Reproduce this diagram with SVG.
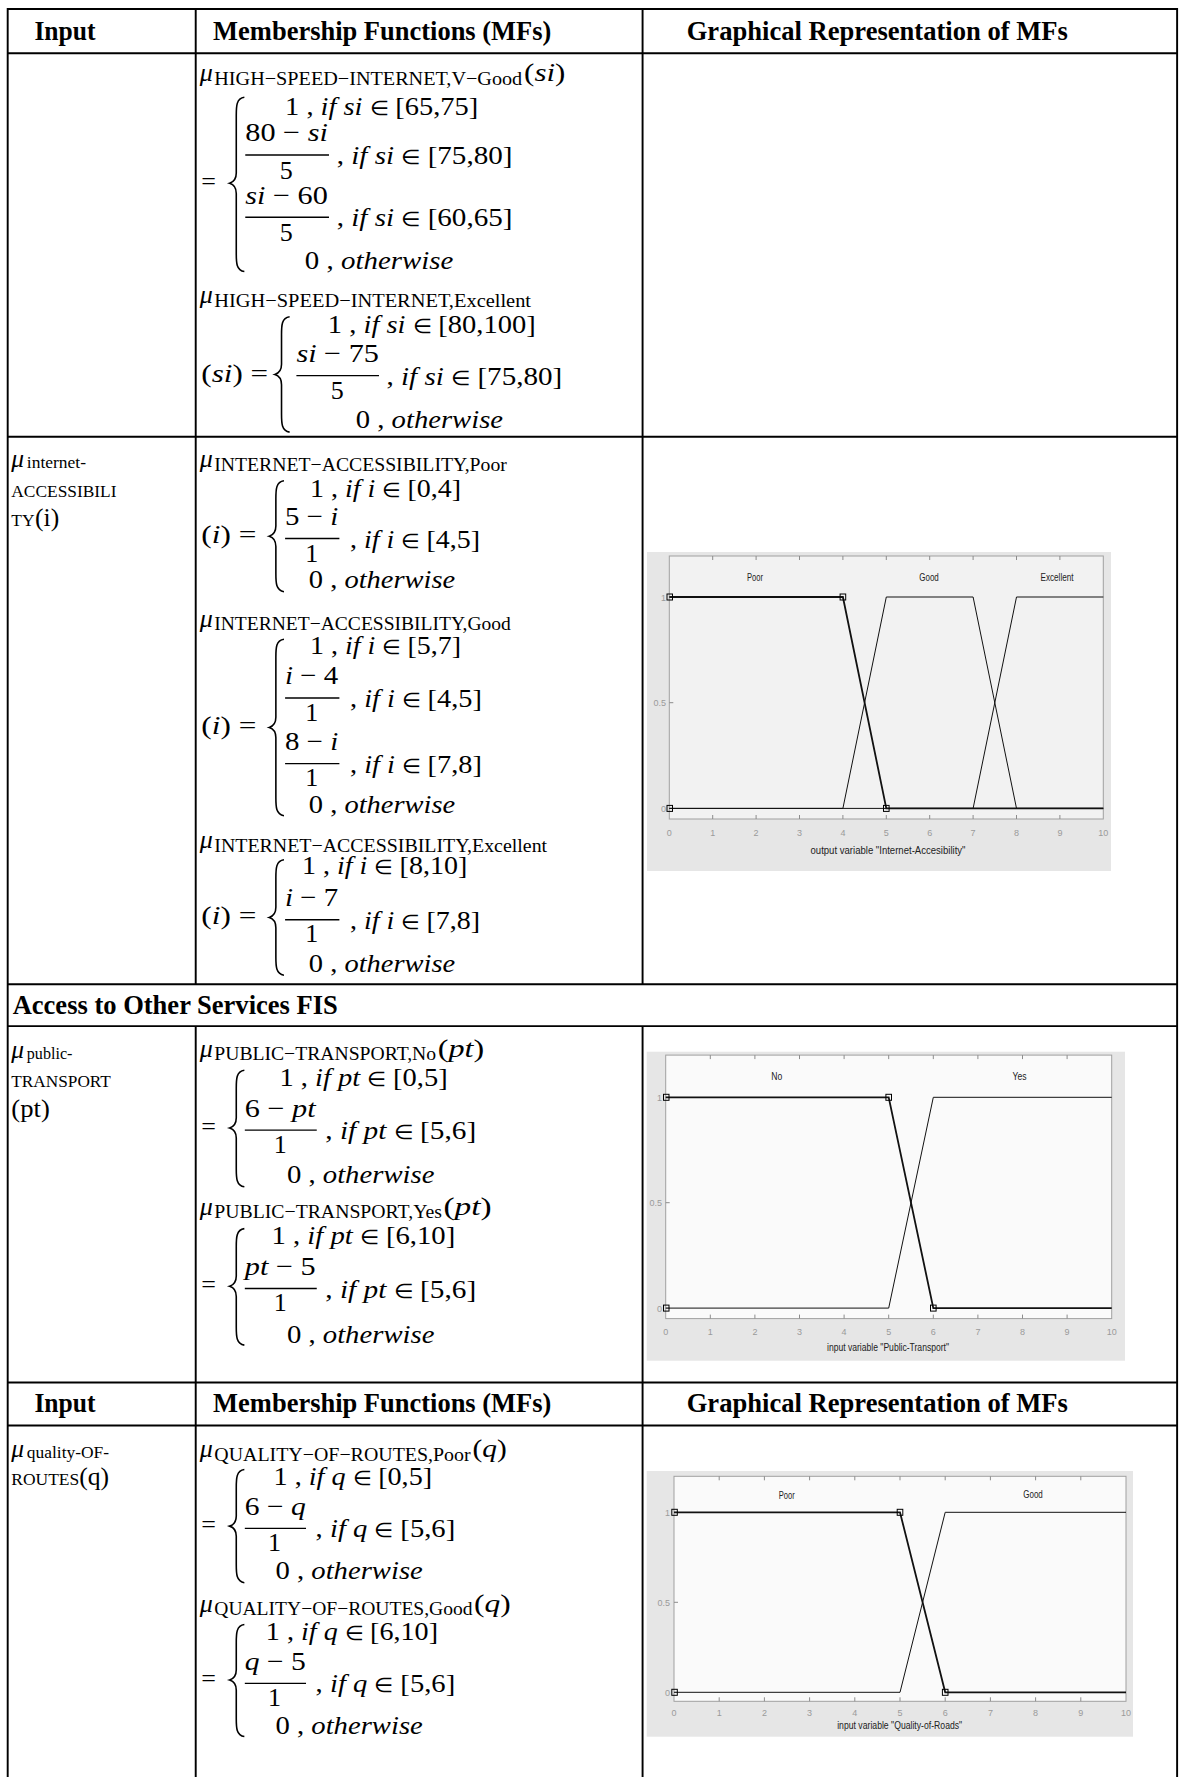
<svg xmlns="http://www.w3.org/2000/svg" width="1180" height="1777" viewBox="0 0 1180 1777">
<style>
.m{font-family:"Liberation Serif","Times New Roman",serif;font-size:23px;fill:#000}
.s{font-size:17.5px}
.it{font-style:italic}
.e{font-size:18px}
.h{font-family:"Liberation Serif","Times New Roman",serif;font-weight:bold;font-size:23.3px;fill:#000}
.l{font-family:"Liberation Serif","Times New Roman",serif;font-size:15.4px;fill:#000}
.lb{font-family:"Liberation Serif","Times New Roman",serif;font-size:22.5px;fill:#000}
.ln{stroke:#000;stroke-width:1.7;fill:none}
.br{fill:none;stroke:#000;stroke-width:1.4}
.bar{stroke:#000;stroke-width:1.2}
.bg{fill:#e6e6e6}
.pa{stroke:#a0a0a0;stroke-width:1}
.tkl{stroke:#8c8c8c;stroke-width:1}
.tk{font-family:"Liberation Sans",Arial,sans-serif;font-size:9px;fill:#9a9a9a}
.cl{font-family:"Liberation Sans",Arial,sans-serif;font-size:10px;fill:#222}
.mf{fill:none;stroke:#111;stroke-width:1}
.mfs{fill:none;stroke:#111;stroke-width:1.8}
.sq{fill:none;stroke:#000;stroke-width:1}
</style>
<rect x="0" y="0" width="1180" height="1777" fill="#fff"/>
<g transform="scale(1.1313)">
<g id="table-lines">
<path class="ln" d="M6.8,8H1041M6.8,47H1041M6.8,386H1041M6.8,870H1041M6.8,907H1041M6.8,1222H1041M6.8,1260H1041"/>
<path class="ln" d="M6.8,7V1571M1040.5,7V1571M173,8V870M173,907V1571M568,8V870M568,907V1571"/>
</g>
<g id="header1">
<text class="h" x="30.4" y="35" textLength="54" lengthAdjust="spacingAndGlyphs">Input</text>
<text class="h" x="188.4" y="35" textLength="299" lengthAdjust="spacingAndGlyphs">Membership Functions (MFs)</text>
<text class="h" x="607" y="35" textLength="337" lengthAdjust="spacingAndGlyphs">Graphical Representation of MFs</text>
</g>
<g id="mf-hsi-vgood">
<text class="m it" x="176.5" y="72">μ</text>
<text class="m s" x="189.4" y="75" textLength="272.2" lengthAdjust="spacingAndGlyphs">HIGH−SPEED−INTERNET,V−Good</text>
<text class="m" x="463.3" y="72" textLength="36.5" lengthAdjust="spacingAndGlyphs">(<tspan class="it">si</tspan>)</text>
<text class="m" x="252" y="102" textLength="170.7" lengthAdjust="spacingAndGlyphs">1 , <tspan class="it">if si</tspan> <tspan class="e">∈</tspan> [65,75]</text>
<text class="m" x="178" y="168">=</text>
<path class="br" d="M216,86 C208.85,87 208.85,94 208.85,102 L208.85,153 C208.85,158 206.25,161 203,162 C206.25,163 208.85,166 208.85,171 L208.85,224 C208.85,232 208.85,239 216,240"/>
<text class="m" x="216.8" y="125" textLength="73" lengthAdjust="spacingAndGlyphs">80 − <tspan class="it">si</tspan></text>
<line class="bar" x1="216.8" y1="137" x2="290.8" y2="137"/>
<text class="m" x="253" y="158" text-anchor="middle">5</text>
<text class="m" x="297.6" y="145" textLength="155.4" lengthAdjust="spacingAndGlyphs">, <tspan class="it">if si</tspan> <tspan class="e">∈</tspan> [75,80]</text>
<text class="m" x="216.8" y="180" textLength="73" lengthAdjust="spacingAndGlyphs"><tspan class="it">si</tspan> − 60</text>
<line class="bar" x1="216.8" y1="192" x2="290.8" y2="192"/>
<text class="m" x="253" y="213" text-anchor="middle">5</text>
<text class="m" x="297.6" y="200" textLength="155.4" lengthAdjust="spacingAndGlyphs">, <tspan class="it">if si</tspan> <tspan class="e">∈</tspan> [60,65]</text>
<text class="m" x="269.5" y="238" textLength="131.2" lengthAdjust="spacingAndGlyphs">0 , <tspan class="it">otherwise</tspan></text>
</g>
<g id="mf-hsi-excellent">
<text class="m it" x="176.5" y="268">μ</text>
<text class="m s" x="189.4" y="271" textLength="280" lengthAdjust="spacingAndGlyphs">HIGH−SPEED−INTERNET,Excellent</text>
<text class="m" x="289.8" y="294" textLength="183.7" lengthAdjust="spacingAndGlyphs">1 , <tspan class="it">if si</tspan> <tspan class="e">∈</tspan> [80,100]</text>
<text class="m" x="178" y="338" textLength="59" lengthAdjust="spacingAndGlyphs">(<tspan class="it">si</tspan>) =</text>
<path class="br" d="M256,280 C248.85,281 248.85,288 248.85,296 L248.85,322 C248.85,327 246.25,330 243,331 C246.25,332 248.85,335 248.85,340 L248.85,366 C248.85,374 248.85,381 256,382"/>
<text class="m" x="262" y="320" textLength="73" lengthAdjust="spacingAndGlyphs"><tspan class="it">si</tspan> − 75</text>
<line class="bar" x1="262" y1="332" x2="335" y2="332"/>
<text class="m" x="298" y="353" text-anchor="middle">5</text>
<text class="m" x="341.6" y="340" textLength="155.4" lengthAdjust="spacingAndGlyphs">, <tspan class="it">if si</tspan> <tspan class="e">∈</tspan> [75,80]</text>
<text class="m" x="314.5" y="378" textLength="130.2" lengthAdjust="spacingAndGlyphs">0 , <tspan class="it">otherwise</tspan></text>
</g>
<g id="input-internet-accessibility">
<text class="lb it" x="10" y="413">μ</text>
<text class="l" x="23.7" y="414" textLength="52.3" lengthAdjust="spacingAndGlyphs">internet-</text>
<text class="l" x="10" y="439" textLength="93" lengthAdjust="spacingAndGlyphs">ACCESSIBILI</text>
<text class="l" x="10" y="465" textLength="20.5" lengthAdjust="spacingAndGlyphs">TY</text>
<text class="lb" x="31" y="465" textLength="21.4" lengthAdjust="spacingAndGlyphs">(i)</text>
</g>
<g id="mf-ia-poor">
<text class="m it" x="176.5" y="413">μ</text>
<text class="m s" x="189.4" y="416" textLength="258.6" lengthAdjust="spacingAndGlyphs">INTERNET−ACCESSIBILITY,Poor</text>
<text class="m" x="274" y="439" textLength="133.5" lengthAdjust="spacingAndGlyphs">1 , <tspan class="it">if i</tspan> <tspan class="e">∈</tspan> [0,4]</text>
<text class="m" x="178" y="480" textLength="48.6" lengthAdjust="spacingAndGlyphs">(<tspan class="it">i</tspan>) =</text>
<path class="br" d="M251,425 C243.85,426 243.85,433 243.85,441 L243.85,465 C243.85,470 241.25,473 238,474 C241.25,475 243.85,478 243.85,483 L243.85,507 C243.85,515 243.85,522 251,523"/>
<text class="m" x="252" y="464" textLength="47" lengthAdjust="spacingAndGlyphs">5 − <tspan class="it">i</tspan></text>
<line class="bar" x1="252" y1="476" x2="300" y2="476"/>
<text class="m" x="275.6" y="497" text-anchor="middle">1</text>
<text class="m" x="309.4" y="484" textLength="115" lengthAdjust="spacingAndGlyphs">, <tspan class="it">if i</tspan> <tspan class="e">∈</tspan> [4,5]</text>
<text class="m" x="273" y="520" textLength="129.4" lengthAdjust="spacingAndGlyphs">0 , <tspan class="it">otherwise</tspan></text>
</g>
<g id="mf-ia-good">
<text class="m it" x="176.5" y="554">μ</text>
<text class="m s" x="189.4" y="557" textLength="262.1" lengthAdjust="spacingAndGlyphs">INTERNET−ACCESSIBILITY,Good</text>
<text class="m" x="274" y="578" textLength="133.5" lengthAdjust="spacingAndGlyphs">1 , <tspan class="it">if i</tspan> <tspan class="e">∈</tspan> [5,7]</text>
<text class="m" x="178" y="649" textLength="48.6" lengthAdjust="spacingAndGlyphs">(<tspan class="it">i</tspan>) =</text>
<path class="br" d="M251,565 C243.85,566 243.85,573 243.85,581 L243.85,634 C243.85,639 241.25,642 238,643 C241.25,644 243.85,647 243.85,652 L243.85,705 C243.85,713 243.85,720 251,721"/>
<text class="m" x="252" y="605" textLength="47" lengthAdjust="spacingAndGlyphs"><tspan class="it">i</tspan> − 4</text>
<line class="bar" x1="252" y1="617" x2="300" y2="617"/>
<text class="m" x="275.6" y="637" text-anchor="middle">1</text>
<text class="m" x="309.4" y="625" textLength="116.6" lengthAdjust="spacingAndGlyphs">, <tspan class="it">if i</tspan> <tspan class="e">∈</tspan> [4,5]</text>
<text class="m" x="252" y="663" textLength="47" lengthAdjust="spacingAndGlyphs">8 − <tspan class="it">i</tspan></text>
<line class="bar" x1="252" y1="675" x2="300" y2="675"/>
<text class="m" x="275.6" y="695" text-anchor="middle">1</text>
<text class="m" x="309.4" y="683" textLength="116.6" lengthAdjust="spacingAndGlyphs">, <tspan class="it">if i</tspan> <tspan class="e">∈</tspan> [7,8]</text>
<text class="m" x="273" y="719" textLength="129.4" lengthAdjust="spacingAndGlyphs">0 , <tspan class="it">otherwise</tspan></text>
</g>
<g id="mf-ia-excellent">
<text class="m it" x="176.5" y="750">μ</text>
<text class="m s" x="189.4" y="753" textLength="294.2" lengthAdjust="spacingAndGlyphs">INTERNET−ACCESSIBILITY,Excellent</text>
<text class="m" x="267" y="773" textLength="146" lengthAdjust="spacingAndGlyphs">1 , <tspan class="it">if i</tspan> <tspan class="e">∈</tspan> [8,10]</text>
<text class="m" x="178" y="817" textLength="48.6" lengthAdjust="spacingAndGlyphs">(<tspan class="it">i</tspan>) =</text>
<path class="br" d="M251,760 C243.85,761 243.85,768 243.85,776 L243.85,802 C243.85,807 241.25,810 238,811 C241.25,812 243.85,815 243.85,820 L243.85,846 C243.85,854 243.85,861 251,862"/>
<text class="m" x="252" y="801" textLength="47" lengthAdjust="spacingAndGlyphs"><tspan class="it">i</tspan> − 7</text>
<line class="bar" x1="252" y1="813" x2="300" y2="813"/>
<text class="m" x="275.6" y="833" text-anchor="middle">1</text>
<text class="m" x="309.4" y="821" textLength="115" lengthAdjust="spacingAndGlyphs">, <tspan class="it">if i</tspan> <tspan class="e">∈</tspan> [7,8]</text>
<text class="m" x="273" y="859" textLength="129.4" lengthAdjust="spacingAndGlyphs">0 , <tspan class="it">otherwise</tspan></text>
</g>
<g id="section-access">
<text class="h" x="11.2" y="896" textLength="287.4" lengthAdjust="spacingAndGlyphs">Access to Other Services FIS</text>
</g>
<g id="input-public-transport">
<text class="lb it" x="10" y="935">μ</text>
<text class="l" x="23.7" y="936" textLength="40.3" lengthAdjust="spacingAndGlyphs">public-</text>
<text class="l" x="10" y="961" textLength="88" lengthAdjust="spacingAndGlyphs">TRANSPORT</text>
<text class="lb" x="10" y="987" textLength="34" lengthAdjust="spacingAndGlyphs">(pt)</text>
</g>
<g id="mf-pt-no">
<text class="m it" x="176.5" y="934">μ</text>
<text class="m s" x="189.4" y="937" textLength="196.1" lengthAdjust="spacingAndGlyphs">PUBLIC−TRANSPORT,No</text>
<text class="m" x="387" y="934" textLength="41" lengthAdjust="spacingAndGlyphs">(<tspan class="it">pt</tspan>)</text>
<text class="m" x="247" y="960" textLength="148.7" lengthAdjust="spacingAndGlyphs">1 , <tspan class="it">if pt</tspan> <tspan class="e">∈</tspan> [0,5]</text>
<text class="m" x="178" y="1003">=</text>
<path class="br" d="M216,946 C208.85,947 208.85,954 208.85,962 L208.85,988 C208.85,993 206.25,996 203,997 C206.25,998 208.85,1001 208.85,1006 L208.85,1033 C208.85,1041 208.85,1048 216,1049"/>
<text class="m" x="216.4" y="987" textLength="62.6" lengthAdjust="spacingAndGlyphs">6 − <tspan class="it">pt</tspan></text>
<line class="bar" x1="216.4" y1="999" x2="280" y2="999"/>
<text class="m" x="247.8" y="1019" text-anchor="middle">1</text>
<text class="m" x="287.5" y="1007" textLength="133.5" lengthAdjust="spacingAndGlyphs">, <tspan class="it">if pt</tspan> <tspan class="e">∈</tspan> [5,6]</text>
<text class="m" x="253.6" y="1046" textLength="130.4" lengthAdjust="spacingAndGlyphs">0 , <tspan class="it">otherwise</tspan></text>
</g>
<g id="mf-pt-yes">
<text class="m it" x="176.5" y="1074">μ</text>
<text class="m s" x="189.4" y="1077" textLength="201.2" lengthAdjust="spacingAndGlyphs">PUBLIC−TRANSPORT,Yes</text>
<text class="m" x="392" y="1074" textLength="42.6" lengthAdjust="spacingAndGlyphs">(<tspan class="it">pt</tspan>)</text>
<text class="m" x="240" y="1100" textLength="162.4" lengthAdjust="spacingAndGlyphs">1 , <tspan class="it">if pt</tspan> <tspan class="e">∈</tspan> [6,10]</text>
<text class="m" x="178" y="1143">=</text>
<path class="br" d="M216,1086 C208.85,1087 208.85,1094 208.85,1102 L208.85,1128 C208.85,1133 206.25,1136 203,1137 C206.25,1138 208.85,1141 208.85,1146 L208.85,1173 C208.85,1181 208.85,1188 216,1189"/>
<text class="m" x="216.4" y="1127" textLength="62.6" lengthAdjust="spacingAndGlyphs"><tspan class="it">pt</tspan> − 5</text>
<line class="bar" x1="216.4" y1="1139" x2="280" y2="1139"/>
<text class="m" x="247.8" y="1159" text-anchor="middle">1</text>
<text class="m" x="287.5" y="1147" textLength="133.5" lengthAdjust="spacingAndGlyphs">, <tspan class="it">if pt</tspan> <tspan class="e">∈</tspan> [5,6]</text>
<text class="m" x="253.6" y="1187" textLength="130.4" lengthAdjust="spacingAndGlyphs">0 , <tspan class="it">otherwise</tspan></text>
</g>
<g id="header2">
<text class="h" x="30.4" y="1248.5" textLength="54" lengthAdjust="spacingAndGlyphs">Input</text>
<text class="h" x="188.4" y="1248.5" textLength="299" lengthAdjust="spacingAndGlyphs">Membership Functions (MFs)</text>
<text class="h" x="607" y="1248.5" textLength="337" lengthAdjust="spacingAndGlyphs">Graphical Representation of MFs</text>
</g>
<g id="input-quality-of-routes">
<text class="lb it" x="10" y="1288">μ</text>
<text class="l" x="23.7" y="1289" textLength="72.7" lengthAdjust="spacingAndGlyphs">quality-OF-</text>
<text class="l" x="10" y="1313" textLength="60" lengthAdjust="spacingAndGlyphs">ROUTES</text>
<text class="lb" x="70" y="1313" textLength="26.4" lengthAdjust="spacingAndGlyphs">(q)</text>
</g>
<g id="mf-qr-poor">
<text class="m it" x="176.5" y="1288">μ</text>
<text class="m s" x="189.4" y="1291" textLength="226.6" lengthAdjust="spacingAndGlyphs">QUALITY−OF−ROUTES,Poor</text>
<text class="m" x="417.7" y="1288" textLength="30.3" lengthAdjust="spacingAndGlyphs">(<tspan class="it">q</tspan>)</text>
<text class="m" x="241.8" y="1313" textLength="140.2" lengthAdjust="spacingAndGlyphs">1 , <tspan class="it">if q</tspan> <tspan class="e">∈</tspan> [0,5]</text>
<text class="m" x="178" y="1355">=</text>
<path class="br" d="M216,1299 C208.85,1300 208.85,1307 208.85,1315 L208.85,1340 C208.85,1345 206.25,1348 203,1349 C206.25,1350 208.85,1353 208.85,1358 L208.85,1383 C208.85,1391 208.85,1398 216,1399"/>
<text class="m" x="216.4" y="1339" textLength="54" lengthAdjust="spacingAndGlyphs">6 − <tspan class="it">q</tspan></text>
<line class="bar" x1="216.4" y1="1351" x2="270.5" y2="1351"/>
<text class="m" x="242.6" y="1371" text-anchor="middle">1</text>
<text class="m" x="279" y="1359" textLength="123.4" lengthAdjust="spacingAndGlyphs">, <tspan class="it">if q</tspan> <tspan class="e">∈</tspan> [5,6]</text>
<text class="m" x="243.5" y="1396" textLength="130.2" lengthAdjust="spacingAndGlyphs">0 , <tspan class="it">otherwise</tspan></text>
</g>
<g id="mf-qr-good">
<text class="m it" x="176.5" y="1425">μ</text>
<text class="m s" x="189.4" y="1428" textLength="228.3" lengthAdjust="spacingAndGlyphs">QUALITY−OF−ROUTES,Good</text>
<text class="m" x="419" y="1425" textLength="32.5" lengthAdjust="spacingAndGlyphs">(<tspan class="it">q</tspan>)</text>
<text class="m" x="235" y="1450" textLength="152.2" lengthAdjust="spacingAndGlyphs">1 , <tspan class="it">if q</tspan> <tspan class="e">∈</tspan> [6,10]</text>
<text class="m" x="178" y="1491">=</text>
<path class="br" d="M216,1436 C208.85,1437 208.85,1444 208.85,1452 L208.85,1476 C208.85,1481 206.25,1484 203,1485 C206.25,1486 208.85,1489 208.85,1494 L208.85,1519 C208.85,1527 208.85,1534 216,1535"/>
<text class="m" x="216.4" y="1476" textLength="54" lengthAdjust="spacingAndGlyphs"><tspan class="it">q</tspan> − 5</text>
<line class="bar" x1="216.4" y1="1488" x2="270.5" y2="1488"/>
<text class="m" x="242.6" y="1508" text-anchor="middle">1</text>
<text class="m" x="279" y="1496" textLength="123.4" lengthAdjust="spacingAndGlyphs">, <tspan class="it">if q</tspan> <tspan class="e">∈</tspan> [5,6]</text>
<text class="m" x="243.5" y="1533" textLength="130.2" lengthAdjust="spacingAndGlyphs">0 , <tspan class="it">otherwise</tspan></text>
</g>
</g>

<g id="chart-internet-accessibility">
<rect class="bg" x="647" y="552" width="464" height="319"/>
<rect x="669.3" y="556" width="434" height="263" fill="#f2f2f2" class="pa"/>
<path class="tkl" d="M712.7,819v-4M756.1,819v-4M799.5,819v-4M842.9,819v-4M886.3,819v-4M929.7,819v-4M973.1,819v-4M1016.5,819v-4M1059.9,819v-4M712.7,556v4M756.1,556v4M799.5,556v4M842.9,556v4M886.3,556v4M929.7,556v4M973.1,556v4M1016.5,556v4M1059.9,556v4M669.3,597h4M669.3,702.7h4M669.3,808.4h4"/>
<g class="tk" text-anchor="end"><text x="666" y="600.5">1</text><text x="666" y="706">0.5</text><text x="666" y="812">0</text></g>
<g class="tk" text-anchor="middle"><text x="669.3" y="836">0</text><text x="712.7" y="836">1</text><text x="756.1" y="836">2</text><text x="799.5" y="836">3</text><text x="842.9" y="836">4</text><text x="886.3" y="836">5</text><text x="929.7" y="836">6</text><text x="973.1" y="836">7</text><text x="1016.5" y="836">8</text><text x="1059.9" y="836">9</text><text x="1103.3" y="836">10</text></g>
<text class="cl" x="888" y="854" text-anchor="middle" textLength="155" lengthAdjust="spacingAndGlyphs">output variable "Internet-Accesibility"</text>
<text class="cl" x="755" y="581" text-anchor="middle" textLength="16" lengthAdjust="spacingAndGlyphs">Poor</text>
<text class="cl" x="929" y="581" text-anchor="middle" textLength="19.5" lengthAdjust="spacingAndGlyphs">Good</text>
<text class="cl" x="1057" y="581" text-anchor="middle" textLength="33" lengthAdjust="spacingAndGlyphs">Excellent</text>
<path class="mf" d="M669.3,808.4 L842.9,808.4 L886.3,597 L973.1,597 L1016.5,808.4 L1103.3,808.4"/>
<path class="mf" d="M669.3,808.4 L973.1,808.4 L1016.5,597 L1103.3,597"/>
<path class="mfs" d="M669.3,597 L842.9,597 L886.3,808.4 L1103.3,808.4"/>
<g class="sq"><rect x="667" y="594" width="5.5" height="6"/><rect x="667" y="805.4" width="5.5" height="6"/><rect x="840.1" y="594" width="5.6" height="6"/><rect x="883.5" y="805.4" width="5.6" height="6"/></g>
</g>

<g id="chart-public-transport">
<rect class="bg" x="646.7" y="1051.7" width="478.3" height="309"/>
<rect x="665.7" y="1055.1" width="446" height="263.5" fill="#fafafa" class="pa"/>
<path class="tkl" d="M710.3,1318.6v-4M754.9,1318.6v-4M799.5,1318.6v-4M844.1,1318.6v-4M888.7,1318.6v-4M933.3,1318.6v-4M977.9,1318.6v-4M1022.5,1318.6v-4M1067.1,1318.6v-4M710.3,1055.1v4M754.9,1055.1v4M799.5,1055.1v4M844.1,1055.1v4M888.7,1055.1v4M933.3,1055.1v4M977.9,1055.1v4M1022.5,1055.1v4M1067.1,1055.1v4M665.7,1097.3h4M665.7,1202.7h4M665.7,1308.1h4"/>
<g class="tk" text-anchor="end"><text x="662" y="1100.8">1</text><text x="662" y="1206">0.5</text><text x="662" y="1311.5">0</text></g>
<g class="tk" text-anchor="middle"><text x="665.7" y="1335">0</text><text x="710.3" y="1335">1</text><text x="754.9" y="1335">2</text><text x="799.5" y="1335">3</text><text x="844.1" y="1335">4</text><text x="888.7" y="1335">5</text><text x="933.3" y="1335">6</text><text x="977.9" y="1335">7</text><text x="1022.5" y="1335">8</text><text x="1067.1" y="1335">9</text><text x="1111.7" y="1335">10</text></g>
<text class="cl" x="888" y="1350.5" text-anchor="middle" textLength="122" lengthAdjust="spacingAndGlyphs">input variable "Public-Transport"</text>
<text class="cl" x="776.7" y="1080" text-anchor="middle" textLength="11" lengthAdjust="spacingAndGlyphs">No</text>
<text class="cl" x="1019.5" y="1080" text-anchor="middle" textLength="14" lengthAdjust="spacingAndGlyphs">Yes</text>
<path class="mf" d="M665.7,1308.1 L888.7,1308.1 L933.3,1097.3 L1111.7,1097.3"/>
<path class="mfs" d="M665.7,1097.3 L888.7,1097.3 L933.3,1308.1 L1111.7,1308.1"/>
<g class="sq"><rect x="663.5" y="1094.3" width="5.5" height="6"/><rect x="663.5" y="1305.1" width="5.5" height="6"/><rect x="885.9" y="1094.3" width="5.6" height="6"/><rect x="930.5" y="1305.1" width="5.6" height="6"/></g>
</g>

<g id="chart-quality-of-roads">
<rect class="bg" x="646.7" y="1471" width="486.3" height="265.7"/>
<rect x="674" y="1476.3" width="452" height="225" fill="#fafafa" class="pa"/>
<path class="tkl" d="M719.2,1701.3v-4M764.4,1701.3v-4M809.6,1701.3v-4M854.8,1701.3v-4M900,1701.3v-4M945.2,1701.3v-4M990.4,1701.3v-4M1035.6,1701.3v-4M1080.8,1701.3v-4M719.2,1476.3v4M764.4,1476.3v4M809.6,1476.3v4M854.8,1476.3v4M900,1476.3v4M945.2,1476.3v4M990.4,1476.3v4M1035.6,1476.3v4M1080.8,1476.3v4M674,1512.3h4M674,1602.3h4M674,1692.3h4"/>
<g class="tk" text-anchor="end"><text x="670" y="1515.8">1</text><text x="670" y="1605.8">0.5</text><text x="670" y="1695.8">0</text></g>
<g class="tk" text-anchor="middle"><text x="674" y="1715.5">0</text><text x="719.2" y="1715.5">1</text><text x="764.4" y="1715.5">2</text><text x="809.6" y="1715.5">3</text><text x="854.8" y="1715.5">4</text><text x="900" y="1715.5">5</text><text x="945.2" y="1715.5">6</text><text x="990.4" y="1715.5">7</text><text x="1035.6" y="1715.5">8</text><text x="1080.8" y="1715.5">9</text><text x="1126" y="1715.5">10</text></g>
<text class="cl" x="899.7" y="1729" text-anchor="middle" textLength="125" lengthAdjust="spacingAndGlyphs">input variable "Quality-of-Roads"</text>
<text class="cl" x="786.7" y="1499" text-anchor="middle" textLength="16" lengthAdjust="spacingAndGlyphs">Poor</text>
<text class="cl" x="1033" y="1498" text-anchor="middle" textLength="19.5" lengthAdjust="spacingAndGlyphs">Good</text>
<path class="mf" d="M674,1692.3 L900,1692.3 L945.2,1512.3 L1126,1512.3"/>
<path class="mfs" d="M674,1512.3 L900,1512.3 L945.2,1692.3 L1126,1692.3"/>
<g class="sq"><rect x="671.8" y="1509.3" width="5.5" height="6"/><rect x="671.8" y="1689.3" width="5.5" height="6"/><rect x="897.2" y="1509.3" width="5.6" height="6"/><rect x="942.4" y="1689.3" width="5.6" height="6"/></g>
</g>
</svg>
